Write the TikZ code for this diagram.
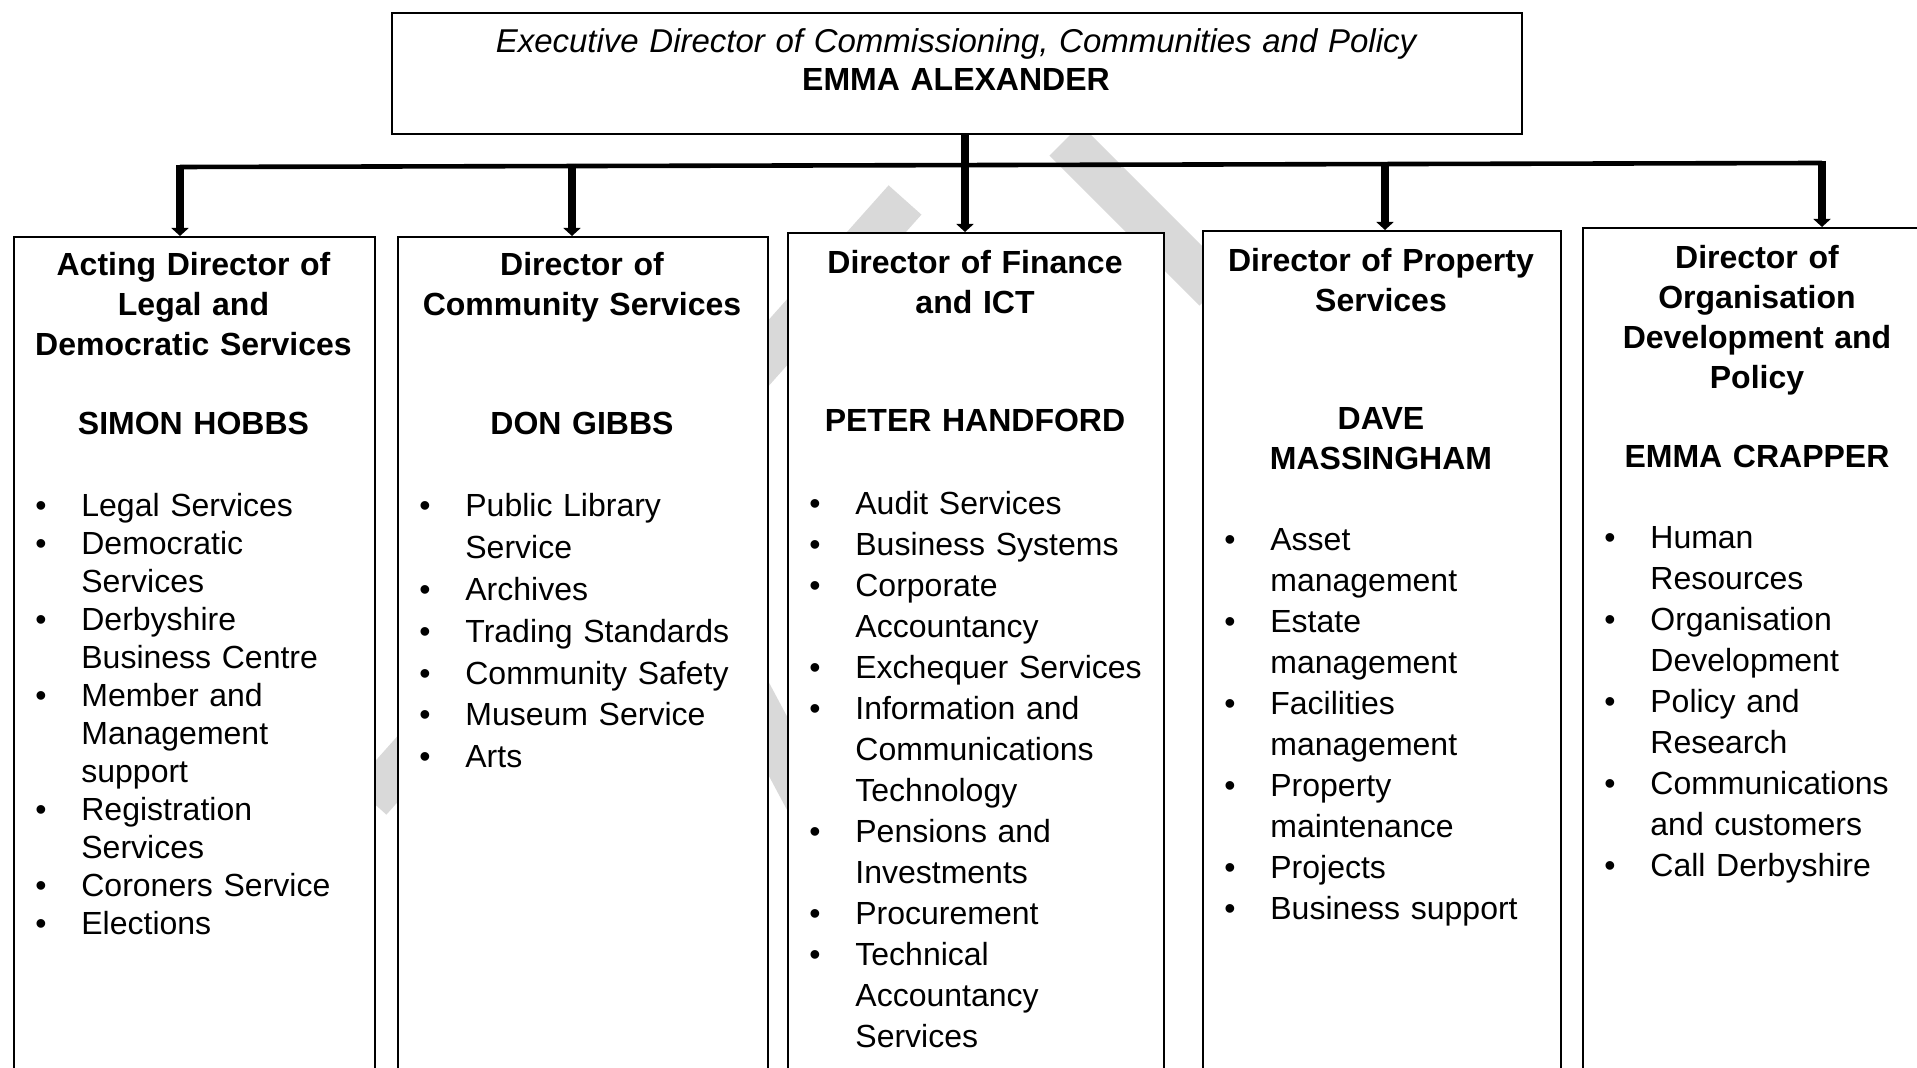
\documentclass[tikz,border=0pt]{standalone}
\usepackage{fontspec}
\setmainfont{Liberation Sans}
\usepackage{tikz}
\usetikzlibrary{calc,positioning,arrows.meta}

\newcommand{\duty}[1]{\hangindent=23pt\hangafter=1\noindent\makebox[23pt][l]{\textbullet}#1\par}

\begin{document}
\begin{tikzpicture}[x=0.5pt,y=-0.5pt,inner sep=0pt,
  post/.style={draw,line width=0.8pt,fill=white,anchor=north west,minimum height=450pt},
  head/.style={anchor=base,align=center,text width=176pt,font=\fontsize{16}{20}\selectfont\bfseries},
  duties/.style={anchor=base west,align=left,text width=170pt,font=\fontsize{16}{#1}\selectfont},
  feed/.style={line width=3.8pt,-{Triangle[length=4pt,width=8.5pt]}},
  wmark/.style={line width=22pt,black!15}]
\clip (0,0) rectangle (1917,1068);
\fill[white] (0,0) rectangle (1917,1068);
% faint watermark behind the boxes
\draw[wmark] (370,800) -- (905,200);
\draw[wmark] (700,600) -- (860,900);
\draw[wmark] (1065,140) -- (1215,290);

\coordinate (b1) at (180,167);
\coordinate (b2) at (572,166);
\coordinate (b3) at (965,165);
\coordinate (b4) at (1385,164);
\coordinate (b5) at (1822,163);

\node (exec) at (391,12) [post,minimum width=565pt,minimum height=60.5pt] {};
\node (chief) at (956,53) [anchor=base,align=center,text width=550pt,font=\fontsize{16}{19}\selectfont]
  {{\fontsize{16.5}{19}\selectfont\itshape Executive Director of Commissioning, Communities and Policy}\\\textbf{EMMA ALEXANDER}};

\node (legal) at (13,236) [post,minimum width=180.5pt] {};
\node (comm) at (397,236) [post,minimum width=185pt] {};
\node (fin) at (787,232) [post,minimum width=188pt] {};
\node (prop) at (1202,230) [post,minimum width=179pt] {};
\node (orgdev) at (1582,227) [post,minimum width=175pt] {};

% connectors
\draw[line width=2.3pt] (b1) -- (b5);
\draw[feed] (exec.south -| b3) -- (b3 |- fin.north);
\draw[feed] ($(b1)+(0,-2)$) -- (b1 |- legal.north);
\draw[feed] ($(b2)+(0,-2)$) -- (b2 |- comm.north);
\draw[feed] ($(b4)+(0,-2)$) -- (b4 |- prop.north);
\draw[feed] ($(b5)+(0,-2)$) -- (b5 |- orgdev.north);

% legal and democratic
\node (legalhd) at (193.5,276) [head] {Acting Director of\\Legal and\\Democratic Services};
\node (legalwho) at (193.5,435) [head] {SIMON HOBBS};
\node (legalls) at (35,517) [duties=19pt] {%
  \duty{Legal Services}
  \duty{Democratic\newline Services}
  \duty{Derbyshire\newline Business Centre}
  \duty{Member and\newline Management\newline support}
  \duty{Registration\newline Services}
  \duty{Coroners Service}
  \duty{Elections}};

% community
\node (commhd) at (582,276) [head] {Director of\\Community Services};
\node (commwho) at (582,435) [head] {DON GIBBS};
\node (commls) at (419,517) [duties=20.9pt] {%
  \duty{Public Library\newline Service}
  \duty{Archives}
  \duty{Trading Standards}
  \duty{Community Safety}
  \duty{Museum Service}
  \duty{Arts}};

% finance and ict
\node (finhd) at (975,274) [head] {Director of Finance\\and ICT};
\node (finwho) at (975,432) [head] {PETER HANDFORD};
\node (finls) at (809,515) [duties=20.5pt] {%
  \duty{Audit Services}
  \duty{Business Systems}
  \duty{Corporate\newline Accountancy}
  \duty{Exchequer Services}
  \duty{Information and\newline Communications\newline Technology}
  \duty{Pensions and\newline Investments}
  \duty{Procurement}
  \duty{Technical\newline Accountancy\newline Services}};

% property
\node (prophd) at (1381,272) [head] {Director of Property\\Services};
\node (propwho) at (1381,430) [head] {DAVE\\MASSINGHAM};
\node (propls) at (1224,551) [duties=20.5pt] {%
  \duty{Asset\newline management}
  \duty{Estate\newline management}
  \duty{Facilities\newline management}
  \duty{Property\newline maintenance}
  \duty{Projects}
  \duty{Business support}};

% organisation development
\node (orghd) at (1757,269) [head] {Director of\\Organisation\\Development and\\Policy};
\node (orgwho) at (1757,468) [head] {EMMA CRAPPER};
\node (orgls) at (1604,549) [duties=20.5pt] {%
  \duty{Human\newline Resources}
  \duty{Organisation\newline Development}
  \duty{Policy and\newline Research}
  \duty{Communications\newline and customers}
  \duty{Call Derbyshire}};

\end{tikzpicture}
\end{document}
